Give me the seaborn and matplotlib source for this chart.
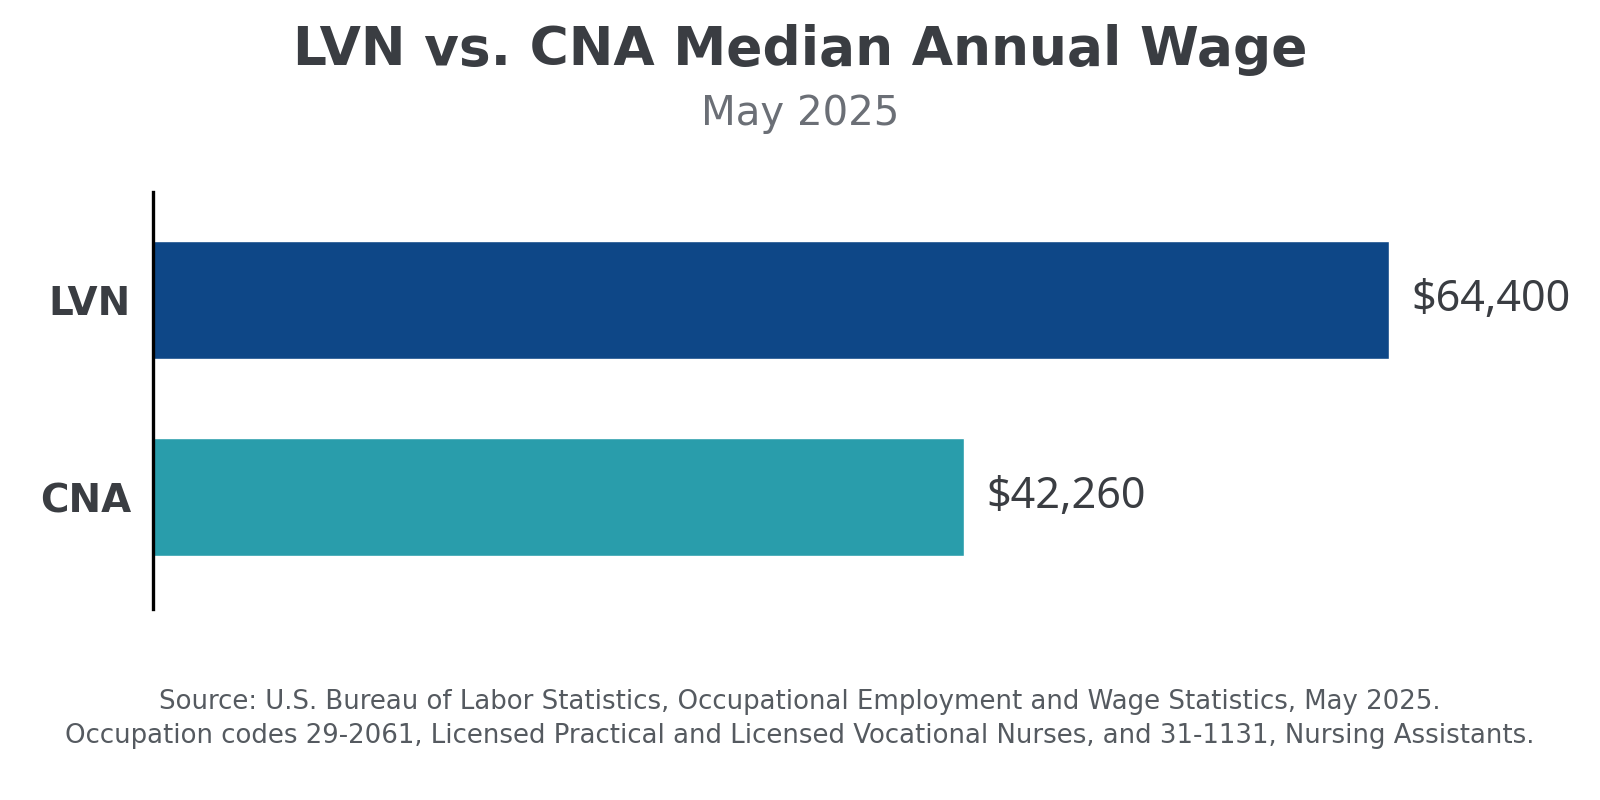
import matplotlib
matplotlib.use("Agg")
import matplotlib.pyplot as plt
import seaborn as sns
import pandas as pd

categories = ["LVN", "CNA"]
wages = [64400, 42260]
value_labels = ["$64,400", "$42,260"]
bar_colors = ["#0E4787", "#299DAB"]
title = "LVN vs. CNA Median Annual Wage"
subtitle = "May 2025"
source_lines = [
    "Source: U.S. Bureau of Labor Statistics, Occupational Employment and Wage Statistics, May 2025.",
    "Occupation codes 29-2061, Licensed Practical and Licensed Vocational Nurses, and 31-1131, Nursing Assistants.",
]

df = pd.DataFrame({"occupation": categories, "wage": wages})

sns.set_theme(style="white")
plt.rcParams["font.family"] = ["DejaVu Sans"]

fig = plt.figure(figsize=(16, 8), dpi=100)
fig.patch.set_facecolor("white")
ax = fig.add_axes([0.0957, 0.2385, 0.885, 0.5215])

sns.barplot(data=df, x="wage", y="occupation", hue="occupation",
            palette=dict(zip(categories, bar_colors)), orient="h",
            width=0.6, legend=False, ax=ax, saturation=1)

ax.set_xlim(0, 73800)
ax.set_ylim(1.57, -0.55)
ax.set_xlabel("")
ax.set_ylabel("")
ax.set_xticks([])
for s in ["top", "right", "bottom"]:
    ax.spines[s].set_visible(False)
ax.spines["left"].set_color("black")
ax.spines["left"].set_linewidth(2.4)
ax.tick_params(axis="y", length=0, pad=16)
for lbl in ax.get_yticklabels():
    lbl.set_fontsize(28)
    lbl.set_fontweight("bold")
    lbl.set_color("#3A3D42")

for i, (w, lab) in enumerate(zip(wages, value_labels)):
    ax.annotate(lab, xy=(w, i), xytext=(16, 0), textcoords="offset points",
                ha="left", va="center", fontsize=31, color="#3A3D42",
                family=["Noto Sans", "DejaVu Sans"])

fig.text(0.5, 0.938, title, ha="center", va="center", fontsize=38.4,
         fontweight="bold", color="#3A3D42")
fig.text(0.5, 0.857, subtitle, ha="center", va="center", fontsize=29,
         color="#6B6F76")
fig.text(0.5, 0.122, source_lines[0], ha="center", va="center", fontsize=18.7,
         color="#555A60")
fig.text(0.5, 0.080, source_lines[1], ha="center", va="center", fontsize=18.7,
         color="#555A60")

fig.savefig("out.png", dpi=100, facecolor="white")
